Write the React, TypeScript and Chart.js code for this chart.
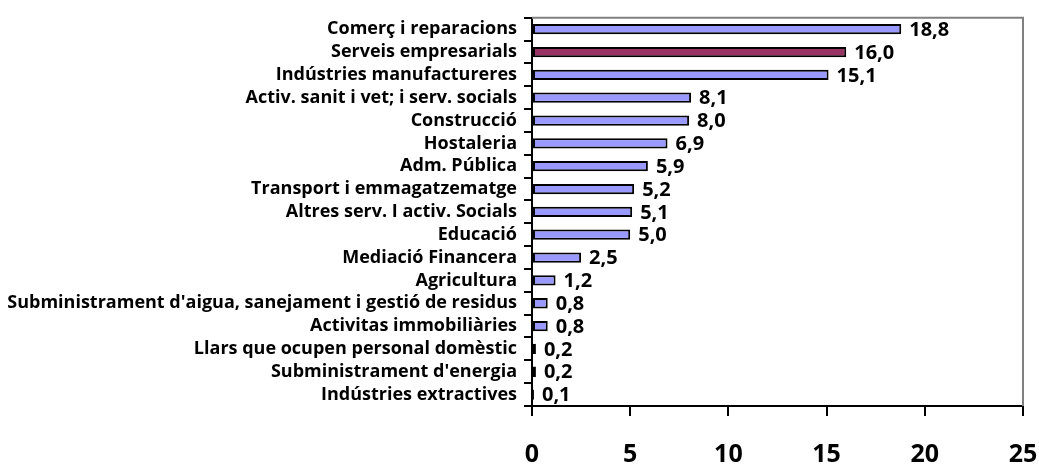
import React, { useEffect, useRef } from "react";
import { Chart, registerables } from "chart.js";

Chart.register(...registerables);

const categories = [
  "Comerç i reparacions",
  "Serveis empresarials",
  "Indústries manufactureres",
  "Activ. sanit i vet; i serv. socials",
  "Construcció",
  "Hostaleria",
  "Adm. Pública",
  "Transport i emmagatzematge",
  "Altres serv. I activ. Socials",
  "Educació",
  "Mediació Financera",
  "Agricultura",
  "Subministrament d'aigua, sanejament i gestió de residus",
  "Activitas immobiliàries",
  "Llars que ocupen personal domèstic",
  "Subministrament d'energia",
  "Indústries extractives",
];
const values = [18.8, 16.0, 15.1, 8.1, 8.0, 6.9, 5.9, 5.2, 5.1, 5.0, 2.5, 1.2, 0.8, 0.8, 0.2, 0.2, 0.1];
const highlighted = ["Serveis empresarials"];
const xTicks = [0, 5, 10, 15, 20, 25];

const FONT = "'Open Sans', sans-serif";

export default function App() {
  const ref = useRef<HTMLCanvasElement | null>(null);
  useEffect(() => {
    if (!ref.current) return;
    const labelPlugin = {
      id: "valueLabels",
      afterDatasetsDraw(chart: any) {
        const ctx = chart.ctx;
        const meta = chart.getDatasetMeta(0);
        ctx.save();
        ctx.font = `bold 20px ${FONT}`;
        ctx.fillStyle = "#000";
        ctx.textBaseline = "middle";
        ctx.textAlign = "left";
        meta.data.forEach((el: any, i: number) => {
          ctx.fillText(values[i].toFixed(1).replace(".", ","), el.x + 8, el.y + 1);
        });
        ctx.restore();
      },
    };
    const framePlugin = {
      id: "frame",
      beforeDatasetsDraw(chart: any) {
        const { ctx, chartArea: a } = chart;
        ctx.save();
        ctx.strokeStyle = "#808080";
        ctx.lineWidth = 2;
        ctx.beginPath();
        ctx.moveTo(a.left, a.top);
        ctx.lineTo(a.right, a.top);
        ctx.lineTo(a.right, a.bottom);
        ctx.stroke();
        ctx.restore();
      },
    };
    const chart = new Chart(ref.current, {
      type: "bar",
      data: {
        labels: categories,
        datasets: [
          {
            data: values,
            backgroundColor: categories.map((c) => (highlighted.includes(c) ? "#993366" : "#9999FF")),
            borderColor: "#000",
            borderWidth: 2,
            borderSkipped: false,
            barPercentage: 0.45,
            categoryPercentage: 1,
          },
        ],
      },
      options: {
        indexAxis: "y",
        animation: false,
        responsive: false,
        maintainAspectRatio: false,
        layout: { padding: { top: 12, right: 16, left: 0, bottom: 0 } },
        plugins: { legend: { display: false }, tooltip: { enabled: false } },
        scales: {
          x: {
            min: 0,
            max: 25,
            afterBuildTicks(scale: any) {
              scale.ticks = xTicks.map((v) => ({ value: v }));
            },
            afterFit(scale: any) {
              scale.height = 58;
              scale.paddingRight = 0;
              scale.paddingLeft = 0;
            },
            grid: {
              drawOnChartArea: false,
              drawTicks: true,
              tickLength: 10,
              color: "#000",
              lineWidth: 2,
            },
            border: { display: true, color: "#000", width: 2 },
            ticks: {
              color: "#000",
              padding: 24,
              maxRotation: 0,
              font: { family: FONT, size: 25, weight: "bold" },
            },
          },
          y: {
            offset: true,
            afterFit(scale: any) {
              scale.width = 532;
            },
            grid: {
              offset: true,
              drawOnChartArea: false,
              drawTicks: true,
              tickLength: 8,
              color: "#000",
              lineWidth: 2,
            },
            border: { display: true, color: "#000", width: 2 },
            ticks: {
              color: "#000",
              padding: 7,
              autoSkip: false,
              font: { family: FONT, size: 18, weight: "bold" },
            },
          },
        },
      },
      plugins: [labelPlugin, framePlugin],
    } as any);
    return () => chart.destroy();
  }, []);
  return (
    <div style={{ position: "absolute", left: 0, top: 0, width: 1039, height: 464, background: "#fff" }}>
      <canvas ref={ref} width={1039} height={464} style={{ width: 1039, height: 464 }} />
    </div>
  );
}
